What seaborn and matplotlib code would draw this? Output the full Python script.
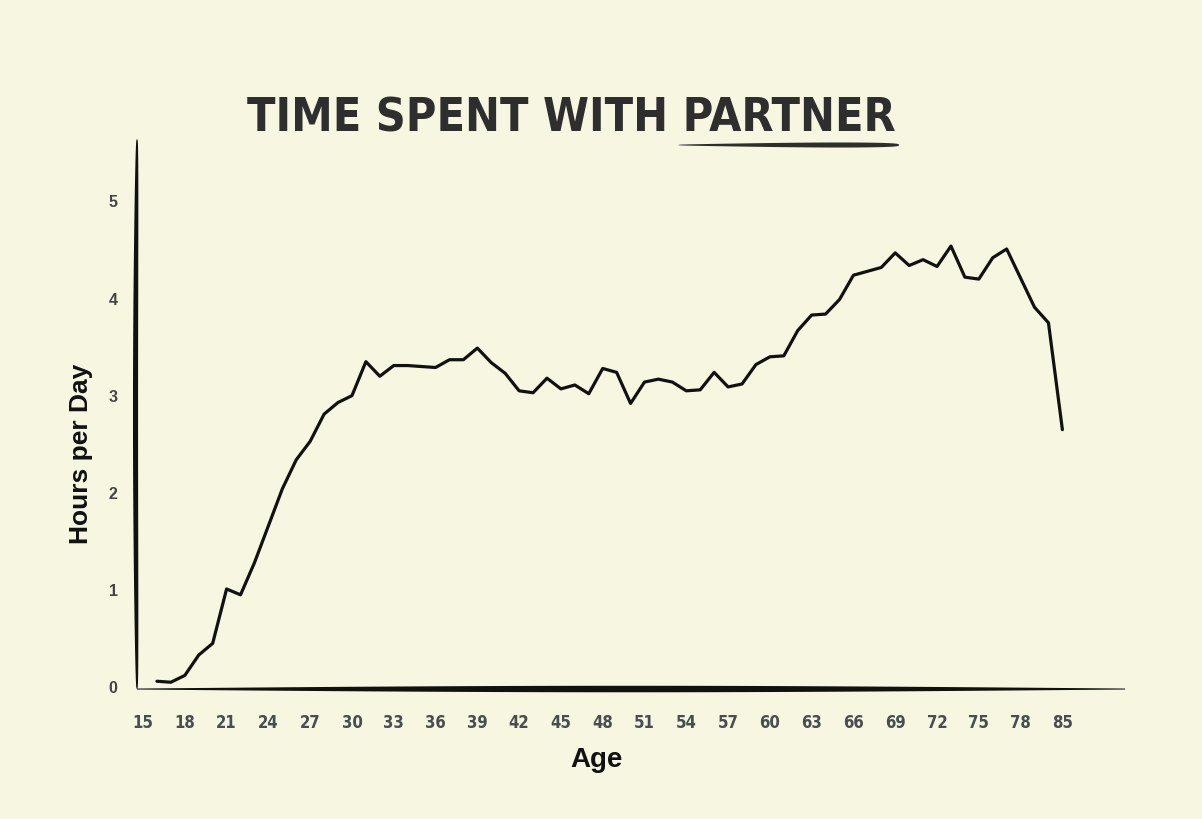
import numpy as np
import pandas as pd
import matplotlib
matplotlib.use('Agg')
import matplotlib.pyplot as plt
import seaborn as sns

# hours per day spent with partner, by age (85 = last age bucket)
ages = list(range(16, 81)) + [85]
hours = [0.05, 0.04, 0.11, 0.32, 0.44, 1.00, 0.94, 1.27, 1.65, 2.03,
         2.33, 2.52, 2.80, 2.92, 2.99, 3.34, 3.19, 3.30, 3.30, 3.29,
         3.28, 3.36, 3.36, 3.48, 3.33, 3.22, 3.04, 3.02, 3.17, 3.06,
         3.10, 3.01, 3.27, 3.23, 2.91, 3.13, 3.16, 3.13, 3.04, 3.05,
         3.23, 3.08, 3.11, 3.31, 3.39, 3.40, 3.66, 3.82, 3.83, 3.98,
         4.23, 4.27, 4.31, 4.46, 4.33, 4.39, 4.32, 4.53, 4.21, 4.19,
         4.41, 4.50, 4.20, 3.90, 3.74, 2.64]

# the x axis is categorical: 15..80 then 85
age_slots = list(range(15, 81)) + [85]
tick_ages = age_slots[::3]
y_ticks = [0, 1, 2, 3, 4, 5]

df = pd.DataFrame({'age': ages, 'hours': hours})
df['pos'] = df['age'].map({a: i for i, a in enumerate(age_slots)})

bg = '#f7f6e1'
ink = '#111111'
sns.set_theme(style='white', rc={'axes.facecolor': bg, 'figure.facecolor': bg})
plt.rcParams['font.family'] = ['Liberation Sans', 'DejaVu Sans']
narrow = ['DejaVu Sans']

fig = plt.figure(figsize=(12.02, 8.2), dpi=100)
ax = fig.add_axes([0.114, 0.1585, 0.822, 0.6705])

sns.lineplot(data=df, x='pos', y='hours', color=ink, linewidth=2.3, ax=ax)

ax.set_xlim(-0.43, 70.5)
ax.set_ylim(-0.03, 5.63)
ax.set_xticks(range(0, len(age_slots), 3))
ax.set_xticklabels(tick_ages, family=narrow, fontstretch='condensed',
                   fontweight='bold', fontsize=12, color='#4a4d50')
ax.set_yticks(y_ticks)
ax.set_yticklabels(y_ticks, fontweight='bold', fontsize=11.5, color='#444444')
ax.tick_params(axis='x', length=0, pad=17)
ax.tick_params(axis='y', length=0, pad=14)
for sp in ax.spines.values():
    sp.set_visible(False)
ax.grid(False)

ax.set_xlabel('Age', fontsize=20, fontweight='bold', color=ink)
ax.set_ylabel('Hours per Day', fontsize=19, fontweight='bold', color=ink)
ax.xaxis.set_label_coords(0.4646, -0.104)
ax.yaxis.set_label_coords(-0.045, 0.43)

# hand drawn, tapered axis strokes
s = np.linspace(0, 1, 300)
ax_w, ax_h = 0.822 * 1202, 0.6705 * 820
wb = 5.5 * np.sin(np.pi * s) ** 1.0 / 2 + 0.5
ax.fill(np.r_[s, s[::-1]], np.r_[wb, -wb[::-1]] / ax_h,
        transform=ax.transAxes, color=ink, lw=0, clip_on=False)
wl = 4.5 * np.sin(np.pi * s) ** 0.35 / 2 + 0.3
bow = 1.5 * np.sin(np.pi * s) / ax_w
ax.fill(np.r_[wl / ax_w - bow, (-wl / ax_w - bow)[::-1]], np.r_[s, s[::-1]],
        transform=ax.transAxes, color=ink, lw=0, clip_on=False)

# title, sized so it spans the same width as the original
title = fig.text(0.475, 1 - 132 / 820, 'TIME SPENT WITH PARTNER', ha='center',
                 va='baseline', family=narrow, fontstretch='condensed',
                 fontweight='heavy', fontsize=46, color='#2e2e2e')
fig.canvas.draw()
r = fig.canvas.get_renderer()
fs = 46 * 647 / title.get_window_extent(r).width
title.set_fontsize(fs)
bb = title.get_window_extent(r)
probe = fig.text(0, 0, 'PARTNER', family=narrow, fontstretch='condensed',
                 fontweight='heavy', fontsize=fs)
pw = probe.get_window_extent(r).width
probe.remove()

# brush underline under PARTNER
x0, x1 = (bb.x1 - pw - 4) / 1202, (bb.x1 + 4) / 1202
u = np.linspace(0, 1, 200)
wu = (1.0 + 2.4 * u) * np.sin(np.pi * u) ** 0.3 / 820
uy = 1 - 146 / 820
fig.patches.append(plt.Polygon(
    np.c_[np.r_[x0 + u * (x1 - x0), (x0 + u * (x1 - x0))[::-1]],
          np.r_[uy + wu, (uy - wu)[::-1]]],
    closed=True, transform=fig.transFigure, color='#2e2e2e', lw=0))

fig.savefig('out.png', dpi=100, facecolor=bg)
